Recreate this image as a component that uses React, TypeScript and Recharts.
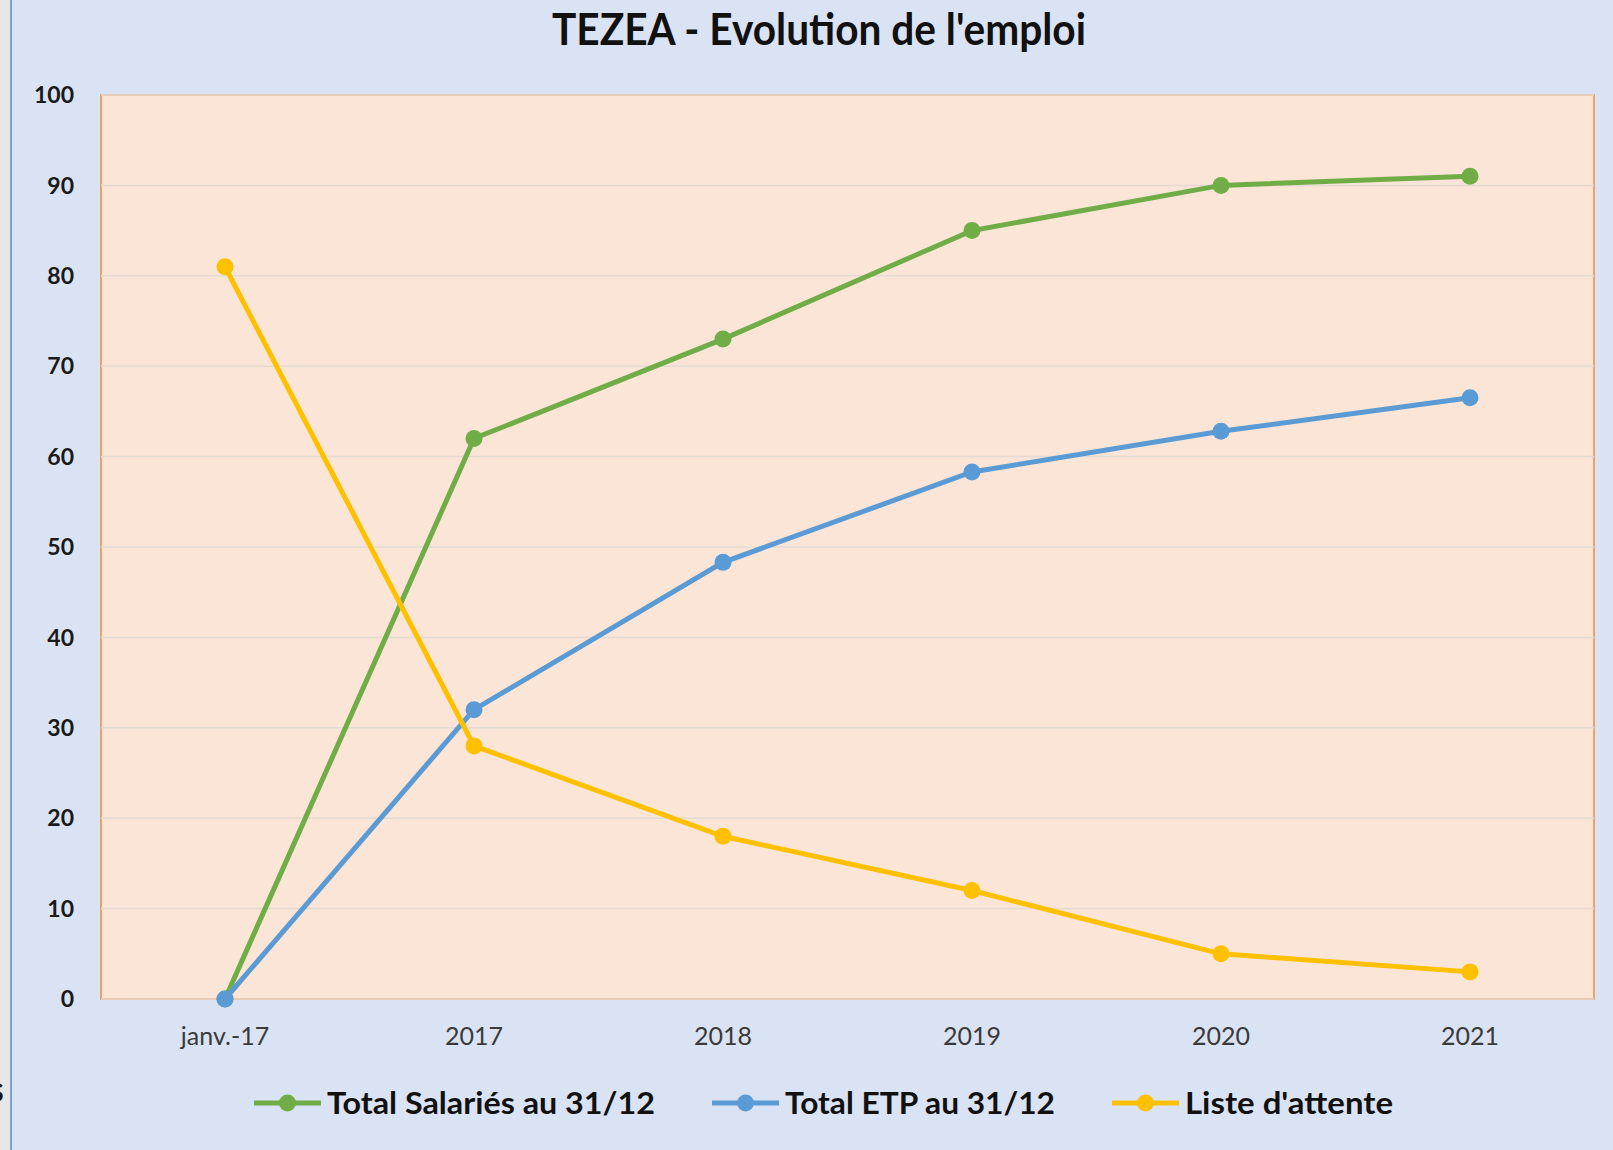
import { LineChart, Line, XAxis, YAxis, CartesianGrid, Legend } from 'recharts';

const categories = ['janv.-17', '2017', '2018', '2019', '2020', '2021'];
const totalSalaries = [0, 62, 73, 85, 90, 91];
const totalEtp = [0, 32, 48.3, 58.3, 62.8, 66.5];
const listeAttente = [81, 28, 18, 12, 5, 3];
const yTicks = [0, 10, 20, 30, 40, 50, 60, 70, 80, 90, 100];

const seriesInfo = [
  { key: 'salaries', name: 'Total Salariés au 31/12', color: '#70AD47', textWidth: 328 },
  { key: 'etp', name: 'Total ETP au 31/12', color: '#5B9BD5', textWidth: 270 },
  { key: 'attente', name: "Liste d'attente", color: '#FFC000', textWidth: 208 },
];

const W = 1613;
const H = 1150;
const FONT = 'Lato, "Open Sans", sans-serif';

const renderLegend = () => (
  <div style={{ display: 'flex', alignItems: 'center', height: 50, paddingLeft: 254, boxSizing: 'border-box' }}>
    {seriesInfo.map((s, i) => (
      <div key={s.key} style={{ display: 'flex', alignItems: 'center', marginRight: i < seriesInfo.length - 1 ? 57 : 0 }}>
        <svg width={67} height={50}>
          <line x1={0} y1={25} x2={67} y2={25} stroke={s.color} strokeWidth={5} strokeLinecap="round" />
          <circle cx={33.5} cy={25} r={8.5} fill={s.color} />
        </svg>
        <svg width={s.textWidth + 6} height={50}>
          <text x={6} y={36} fontFamily={FONT} fontWeight={700} fontSize={30} fill="#111"
            textLength={s.textWidth} lengthAdjust="spacingAndGlyphs">{s.name}</text>
        </svg>
      </div>
    ))}
  </div>
);

export default function App() {
  const data = categories.map((c, i) => ({
    cat: c,
    salaries: totalSalaries[i],
    etp: totalEtp[i],
    attente: listeAttente[i],
  }));

  return (
    <div style={{ position: 'absolute', left: 0, top: 0, width: W, height: H, background: '#DAE3F3', overflow: 'hidden', fontFamily: FONT }}>
      {/* window edge at the far left */}
      <div style={{ position: 'absolute', left: 0, top: 0, width: 10, height: H, background: '#E6E6E6' }} />
      <div style={{ position: 'absolute', left: 10, top: 0, width: 2, height: H, background: '#7C9FDB' }} />
      <div style={{ position: 'absolute', left: -12, top: 1066, fontSize: 36, fontWeight: 700, color: '#111', width: 20, overflow: 'hidden' }}>s</div>

      {/* plot area background + border */}
      <div style={{ position: 'absolute', left: 100, top: 94, width: 1495, height: 906, background: '#FBE5D6', border: '2px solid #F2A068', boxSizing: 'border-box' }} />

      <svg width={W} height={60} style={{ position: 'absolute', left: 0, top: 0 }}>
        <text x={819} y={45} textAnchor="middle" fontFamily={FONT} fontWeight={700} fontSize={43} fill="#111"
          textLength={534} lengthAdjust="spacingAndGlyphs">TEZEA - Evolution de l'emploi</text>
      </svg>

      <div style={{ position: 'absolute', left: 0, top: 0 }}>
        <LineChart width={W} height={H} data={data} margin={{ top: 95, right: 19, left: 0, bottom: 91 }}>
          <CartesianGrid vertical={false} stroke="#E2DBD4" strokeWidth={1.5} />
          <XAxis
            dataKey="cat"
            height={60}
            padding={{ left: 124, right: 124 }}
            axisLine={false}
            tickLine={false}
            tickSize={0}
            tickMargin={28}
            tick={{ fontSize: 25, fill: '#3A3A3A', fontFamily: FONT }}
          />
          <YAxis
            width={101}
            domain={[0, 100]}
            ticks={yTicks}
            axisLine={false}
            tickLine={false}
            tickSize={0}
            tickMargin={27}
            tick={{ fontSize: 23, fontWeight: 700, fill: '#1A1A1A', fontFamily: FONT }}
          />
          <Legend
            layout="horizontal"
            verticalAlign="middle"
            align="center"
            content={renderLegend}
            wrapperStyle={{ left: 0, top: 1078, width: W, height: 50 }}
          />
          {seriesInfo.map((s) => (
            <Line
              key={s.key}
              dataKey={s.key}
              name={s.name}
              type="linear"
              stroke={s.color}
              strokeWidth={5}
              dot={{ r: 8.5, fill: s.color, stroke: s.color, strokeWidth: 0 }}
              activeDot={false}
              isAnimationActive={false}
            />
          ))}
        </LineChart>
      </div>
    </div>
  );
}
